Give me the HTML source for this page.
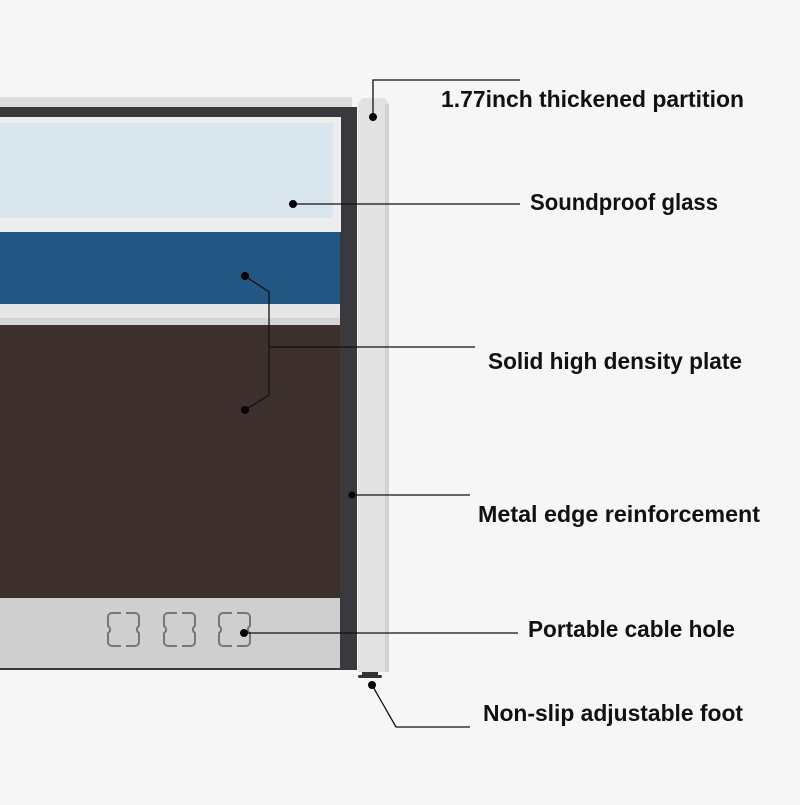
<!DOCTYPE html>
<html><head><meta charset="utf-8"><style>html,body{margin:0;padding:0;background:#f6f6f6}</style></head>
<body>
<svg width="800" height="800" viewBox="0 0 800 800" xmlns="http://www.w3.org/2000/svg">
<rect width="800" height="800" fill="#f6f6f6"/>
<!-- top cap -->
<rect x="0" y="97" width="352" height="10" fill="#dcdcdc"/>
<!-- dark frame -->
<rect x="0" y="107" width="357" height="563" fill="#3a3a3e"/>
<!-- glass -->
<rect x="0" y="117" width="341" height="115" fill="#ededed"/>
<rect x="0" y="123" width="333" height="95" fill="#d9e6ee"/>
<!-- blue -->
<rect x="0" y="232" width="340" height="72" fill="#215782"/>
<!-- white strip -->
<rect x="0" y="304" width="340" height="21" fill="#e6e6e6"/>
<rect x="0" y="318" width="340" height="7" fill="#d4d4d4"/>
<!-- brown -->
<rect x="0" y="325" width="340" height="273" fill="#3d302d"/>
<!-- bottom panel -->
<rect x="0" y="598" width="340" height="70" fill="#cfcfcf"/>
<!-- cable holes -->
<g fill="none" stroke="#777" stroke-width="2">
<path d="M112 613 h9 M126 613 h9 a4 4 0 0 1 4 4 v9 a4 4 0 0 0 0 7 v9 a4 4 0 0 1 -4 4 h-9 M121 646 h-9 a4 4 0 0 1 -4 -4 v-9 a4 4 0 0 0 0 -7 v-9 a4 4 0 0 1 4 -4"/>
<path d="M168 613 h9 M182 613 h9 a4 4 0 0 1 4 4 v9 a4 4 0 0 0 0 7 v9 a4 4 0 0 1 -4 4 h-9 M177 646 h-9 a4 4 0 0 1 -4 -4 v-9 a4 4 0 0 0 0 -7 v-9 a4 4 0 0 1 4 -4"/>
<path d="M223 613 h9 M237 613 h9 a4 4 0 0 1 4 4 v9 a4 4 0 0 0 0 7 v9 a4 4 0 0 1 -4 4 h-9 M232 646 h-9 a4 4 0 0 1 -4 -4 v-9 a4 4 0 0 0 0 -7 v-9 a4 4 0 0 1 4 -4"/>
</g>
<!-- post -->
<polygon points="358,104 362,98 385,98 389,104 389,672 358,672" fill="#e2e2e2"/>
<rect x="385" y="104" width="4" height="568" fill="#d2d2d2"/>
<!-- foot -->
<rect x="362" y="672" width="16" height="4" fill="#333"/>
<rect x="358" y="675" width="24" height="3" rx="1.5" fill="#333"/>
<!-- connectors -->
<g stroke="#111" stroke-width="1.3" fill="none">
<polyline points="373,113 373,80 520,80"/>
<line x1="293" y1="204" x2="520" y2="204"/>
<polyline points="245,276 269,292 269,395 245,410"/>
<line x1="269" y1="347" x2="475" y2="347"/>
<line x1="352" y1="495" x2="470" y2="495"/>
<line x1="244" y1="633" x2="518" y2="633"/>
<polyline points="372,685 396,727 470,727"/>
</g>
<g fill="#000">
<circle cx="373" cy="117" r="4"/>
<circle cx="293" cy="204" r="4"/>
<circle cx="245" cy="276" r="4"/>
<circle cx="245" cy="410" r="4"/>
<circle cx="352" cy="495" r="3.5"/>
<circle cx="244" cy="633" r="4"/>
<circle cx="372" cy="685" r="4"/>
</g>
<g font-family="Liberation Sans, sans-serif" font-weight="bold" font-size="23" fill="#111">
<text x="441" y="107" textLength="303" lengthAdjust="spacingAndGlyphs">1.77inch thickened partition</text>
<text x="530" y="210" textLength="188" lengthAdjust="spacingAndGlyphs">Soundproof glass</text>
<text x="488" y="369" textLength="254" lengthAdjust="spacingAndGlyphs">Solid high density plate</text>
<text x="478" y="522" textLength="282" lengthAdjust="spacingAndGlyphs">Metal edge reinforcement</text>
<text x="528" y="637" textLength="207" lengthAdjust="spacingAndGlyphs">Portable cable hole</text>
<text x="483" y="721" textLength="260" lengthAdjust="spacingAndGlyphs">Non-slip adjustable foot</text>
</g>
</svg>
</body></html>
